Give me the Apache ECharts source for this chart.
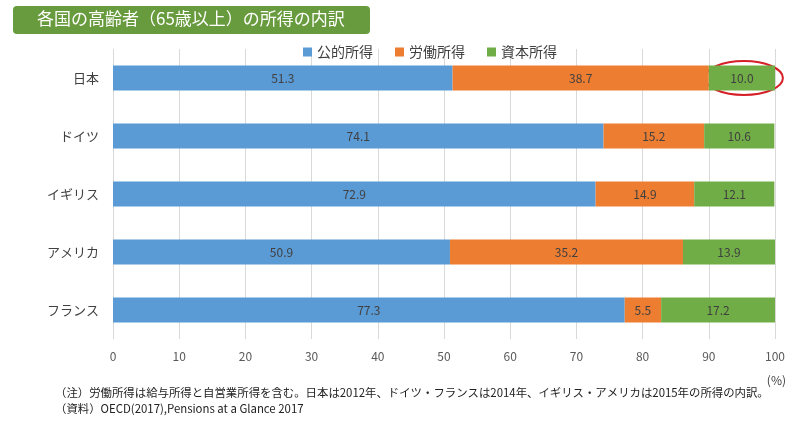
<!DOCTYPE html>
<html><head><meta charset="utf-8">
<script src="https://cdn.jsdelivr.net/npm/echarts@6/dist/echarts.min.js"></script>
<style>html,body{margin:0;padding:0;background:#fff}#c{width:800px;height:423px}</style>
</head><body><div id="c"></div>
<script>
const categories = ['日本','ドイツ','イギリス','アメリカ','フランス'];
const publicIncome = [51.3, 74.1, 72.9, 50.9, 77.3];
const laborIncome = [38.7, 15.2, 14.9, 35.2, 5.5];
const capitalIncome = [10.0, 10.6, 12.1, 13.9, 17.2];
const seriesNames = ['公的所得','労働所得','資本所得'];
const colors = ['#5b9bd5','#ed7d31','#70ad47'];
const FONT = '"Noto Sans CJK JP","Noto Sans",sans-serif';

const chart = echarts.init(document.getElementById('c'));
const mk = (name, data, color) => ({
  name, type: 'bar', stack: 'total', data, barWidth: 25,
  itemStyle: { color },
  label: { show: true, position: 'inside', color: '#404040', fontSize: 12, fontFamily: FONT,
           formatter: p => p.value.toFixed(1) }
});
chart.setOption({
  animation: false,
  textStyle: { fontFamily: FONT },
  legend: {
    top: 40, left: 298, itemWidth: 9, itemHeight: 9, itemGap: 22, icon: 'rect',
    textStyle: { fontSize: 14, color: '#404040', fontFamily: FONT },
    data: seriesNames
  },
  grid: { left: 113, right: 25, top: 49, bottom: 84 },
  xAxis: {
    type: 'value', min: 0, max: 100, interval: 10,
    axisLine: { show: false }, axisTick: { show: false },
    splitLine: { lineStyle: { color: '#d9d9d9' } },
    axisLabel: { color: '#595959', fontSize: 12, margin: 11 }
  },
  yAxis: {
    type: 'category', data: categories, inverse: true,
    axisLine: { show: false }, axisTick: { show: false },
    axisLabel: { color: '#404040', fontSize: 13, margin: 14 }
  },
  series: [
    mk(seriesNames[0], publicIncome, colors[0]),
    mk(seriesNames[1], laborIncome, colors[1]),
    mk(seriesNames[2], capitalIncome, colors[2])
  ]
});

const c0 = chart.convertToPixel({ gridIndex: 0 }, [publicIncome[0] + laborIncome[0] + capitalIncome[0] / 2, categories[0]]);
chart.setOption({
  graphic: [
    { type: 'rect', left: 13, top: 6, shape: { width: 357, height: 28, r: 4 }, style: { fill: '#689b3d' } },
    { type: 'text', left: 37, top: 10, style: { text: '各国の高齢者（65歳以上）の所得の内訳', fill: '#fff', font: '17px ' + FONT } },
    { type: 'ellipse', shape: { cx: c0[0] + 2, cy: c0[1], rx: 39, ry: 17 }, style: { fill: 'none', stroke: '#d62027', lineWidth: 2 } },
    { type: 'text', right: 14, top: 374, style: { text: '(%)', fill: '#404040', font: '12px ' + FONT } },
    { type: 'text', left: 55, top: 387, style: { text: '（注）労働所得は給与所得と自営業所得を含む。日本は2012年、ドイツ・フランスは2014年、イギリス・アメリカは2015年の所得の内訳。', fill: '#222', font: '11.4px ' + FONT } },
    { type: 'text', left: 55, top: 403, style: { text: '（資料）OECD(2017),Pensions at a Glance 2017', fill: '#222', font: '11.4px ' + FONT } }
  ]
});
</script></body></html>
